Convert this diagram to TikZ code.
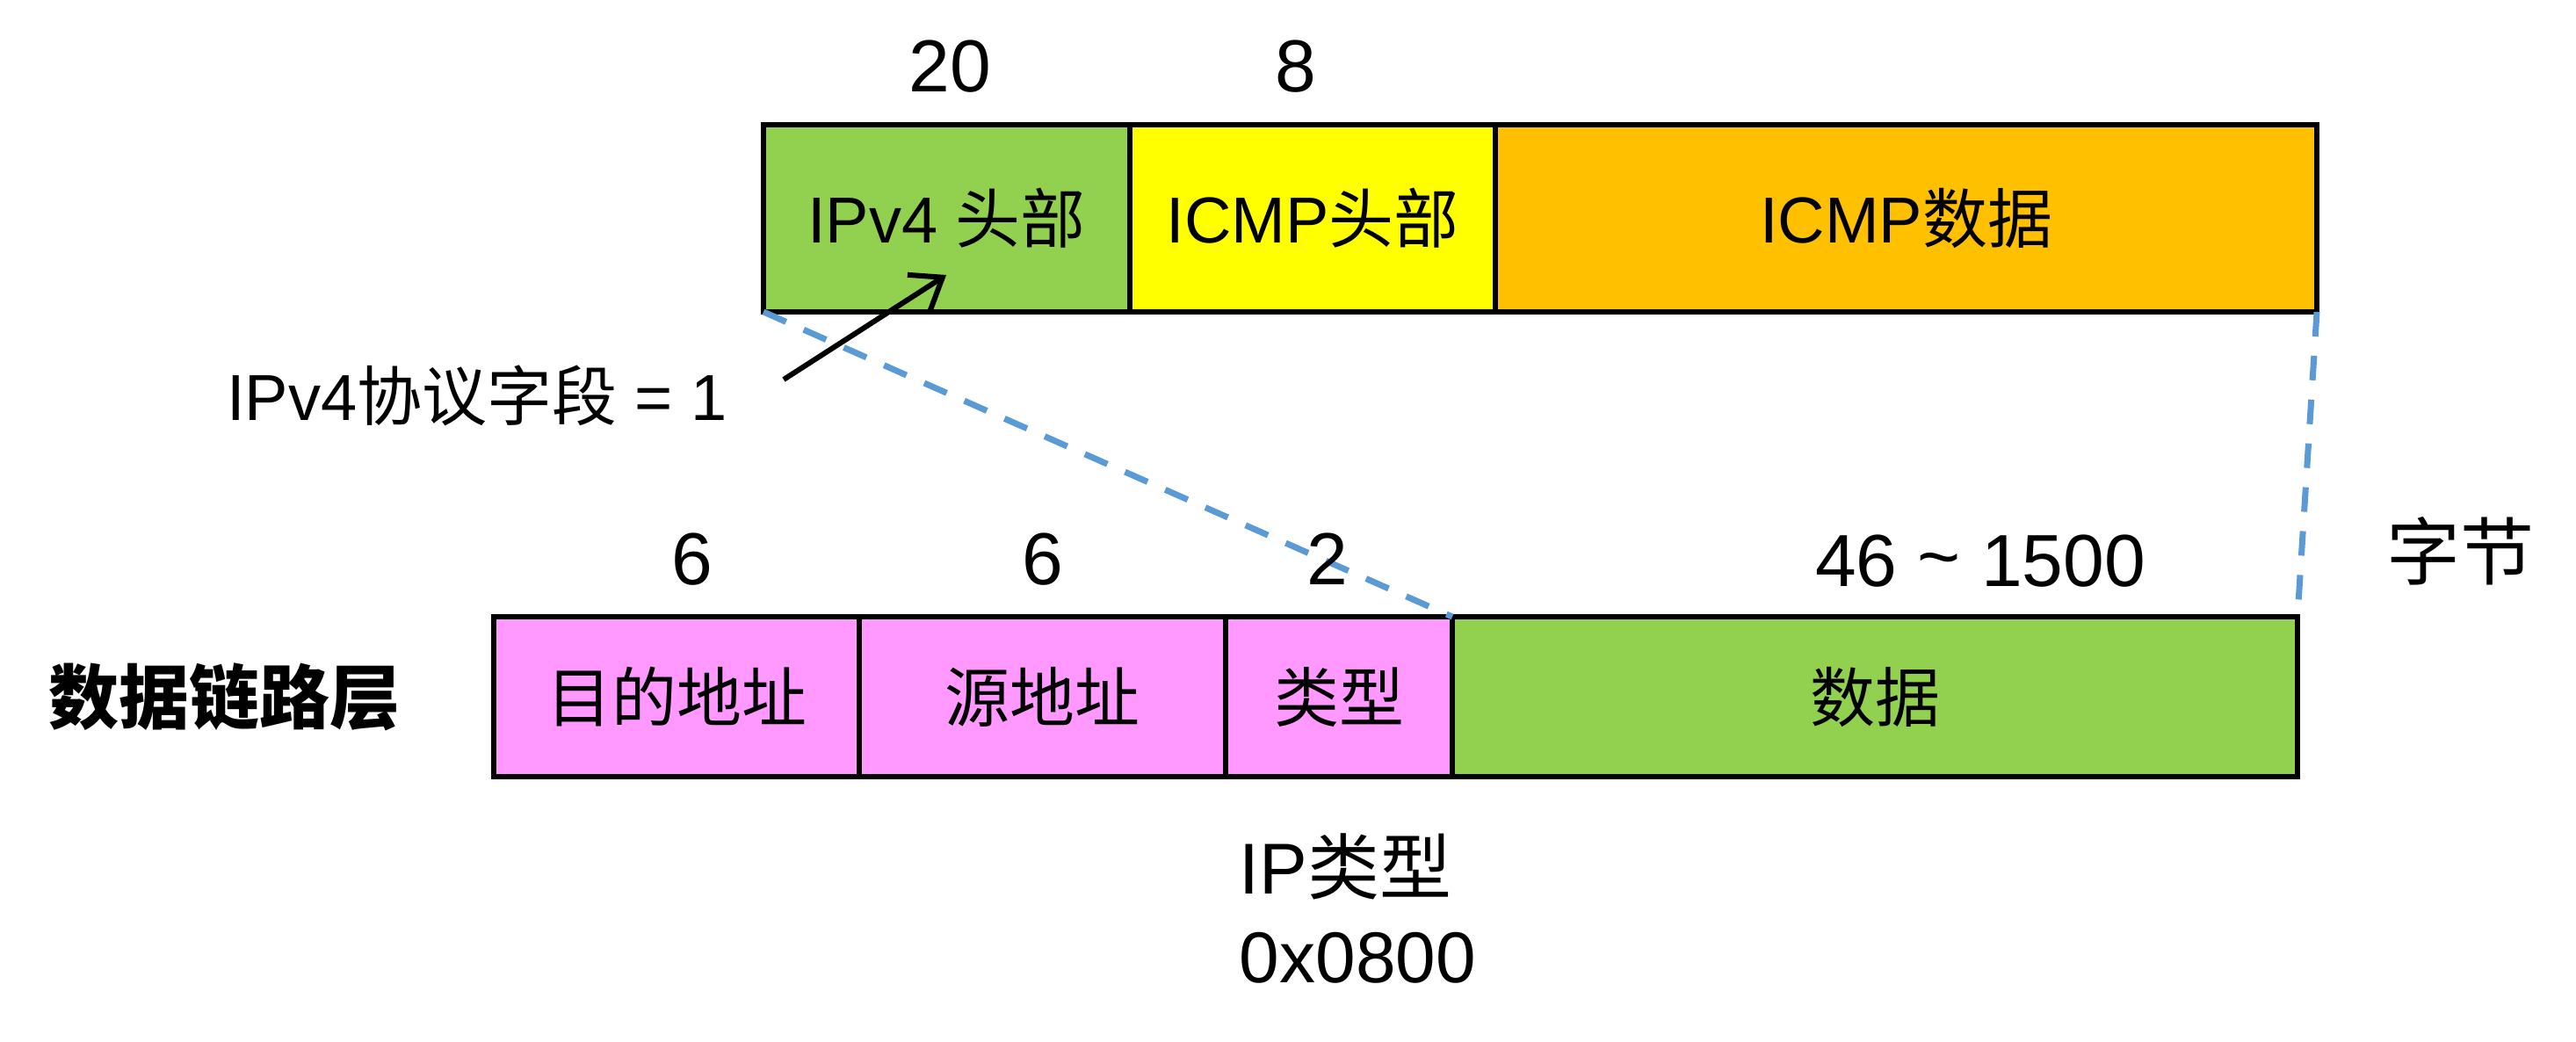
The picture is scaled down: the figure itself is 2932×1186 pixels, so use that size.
\documentclass[tikz,border=0pt]{standalone}
\usepackage{fontspec}
\setmainfont{Liberation Sans}
\newfontfamily\cjk{Noto Sans CJK SC}
\usetikzlibrary{arrows.meta}
\definecolor{cgreen}{HTML}{92D050}
\definecolor{cyellow}{HTML}{FFFF00}
\definecolor{corange}{HTML}{FFC000}
\definecolor{cpink}{HTML}{FF99FF}
\definecolor{cblue}{HTML}{5B9BD5}
\tikzset{
  fbox/.style={draw=black, line width=1.4pt, inner sep=0pt, outer sep=0pt, anchor=north west,
    font=\fontsize{18.5pt}{22pt}\selectfont},
  topbox/.style={fbox, minimum height=53.25pt},
  botbox/.style={fbox, minimum height=45.5pt},
  numtxt/.style={inner sep=0pt, font=\fontsize{21pt}{25pt}\selectfont, anchor=base},
  lbltxt/.style={inner sep=0pt, font=\fontsize{18.5pt}{22pt}\selectfont},
  guide/.style={draw=cblue, line width=1.75pt, dash pattern=on 7pt off 5.5pt},
  pointer/.style={draw=black, line width=1.5pt, -{Straight Barb[length=8pt,width=12pt,line width=1.5pt]}}
}
\begin{document}
\begin{tikzpicture}[x=0.25pt,y=-0.25pt]
\useasboundingbox (0,0) rectangle (2932,1186);
% top row
\node[topbox, fill=cgreen, minimum width=104.25pt] (ipv4) at (869,142) {IPv4 {\cjk 头部}};
\node[topbox, fill=cyellow, minimum width=104pt] (icmph) at (1286,142) {ICMP{\cjk 头部}};
\node[topbox, fill=corange, minimum width=233.75pt] (icmpd) at (1702,142) {ICMP{\cjk 数据}};
% bottom row
\node[botbox, fill=cpink, minimum width=104pt] (dst) at (562,702) {\cjk 目的地址};
\node[botbox, fill=cpink, minimum width=104.25pt] (src) at (978,702) {\cjk 源地址};
\node[botbox, fill=cpink, minimum width=64.5pt] (typ) at (1395,702) {\cjk 类型};
\node[botbox, fill=cgreen, minimum width=240.5pt] (data) at (1653,702) {\cjk 数据};
% dashed guides
\draw[guide] (ipv4.south west) -- (data.north west);
\draw[guide] (icmpd.south east) -- (data.north east);
% sizes
\node[numtxt] (n20) at (1081,105) {20};
\node[numtxt] (n8) at (1475,105) {8};
\node[numtxt] (n6a) at (788,665) {6};
\node[numtxt] (n6b) at (1187,665) {6};
\node[numtxt] (n2) at (1511,665) {2};
\node[numtxt] (n46) at (2254,667) {46 \raisebox{0.05em}{\textasciitilde} 1500};
\node[inner sep=0pt, font=\fontsize{21pt}{25pt}\selectfont\cjk] (bytes) at (2800,627) {字节};
% labels
\node[inner sep=0pt, font=\fontsize{20pt}{24pt}\selectfont\cjk\bfseries] (dll) at (255,793) {数据链路层};
\node[lbltxt, anchor=base] (proto) at (543,479) {IPv4{\cjk 协议字段} = 1};
\node[inner sep=0pt, font=\fontsize{20.5pt}{24pt}\selectfont, anchor=base west] (iptype) at (1410,1017) {IP{\cjk 类型}};
\node[inner sep=0pt, font=\fontsize{20.5pt}{24pt}\selectfont, anchor=base west] (hex) at (1410,1118) {0x0800};
% arrow
\coordinate (arrS) at (892,432);
\coordinate (arrE) at (1077,313);
\draw[pointer] (arrS) -- (arrE);
\end{tikzpicture}
\end{document}
